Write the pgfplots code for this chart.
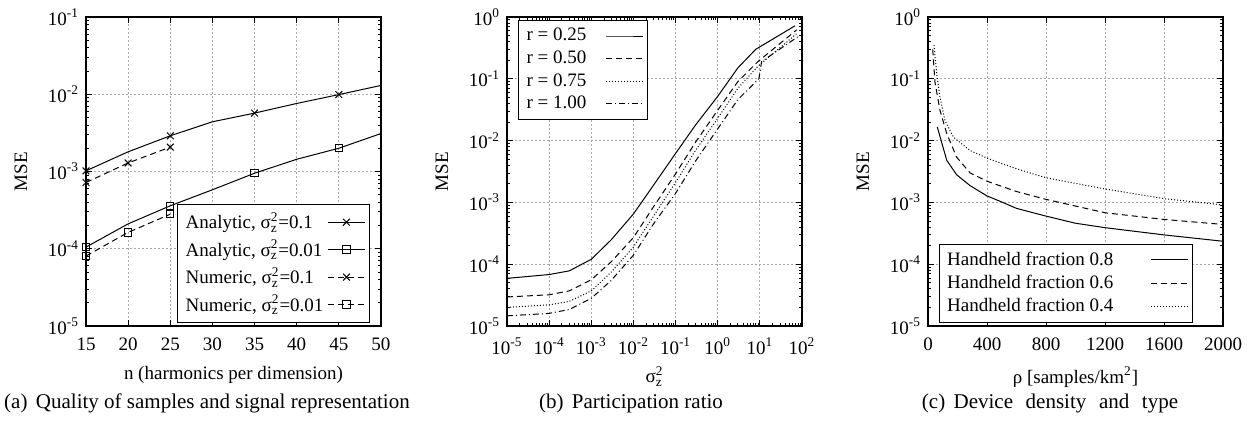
\documentclass[border=0pt]{standalone}
\usepackage{fontspec}
\setmainfont{Liberation Serif}
\usepackage{amsmath}
\usepackage{pgfplots}
\pgfplotsset{compat=1.18}

\newcommand{\gpfont}{\fontsize{9.5}{11}\selectfont}
\newcommand{\capfont}{\fontsize{10.5}{12}\selectfont}
\newcommand{\sz}{\ensuremath{\text{σ}^{\text{2}}_{\text{z}}}}

\pgfplotsset{
  legend image code/.code={%
    \draw[mark repeat=2,mark phase=2,#1]
      plot coordinates {(0pt,0pt) (9.25pt,0pt) (18.5pt,0pt)};},
  gp/.style={
    anchor=south west,
    scale only axis, width=147.5pt, height=154.5pt,
    axis line style={line width=0.6pt},
    tick align=inside, major tick length=3pt, minor tick length=1.5pt,
    tick style={black, line width=0.4pt},
    grid=major,
    major grid style={gray!70, line width=0.4pt, dash pattern=on 1pt off 1pt},
    ylabel=MSE,
    every axis y label/.style={at={(axis description cs:0,0.5)},
      xshift=-32.5pt, rotate=90, anchor=center},
    tick label style={font=\gpfont},
    xticklabel style={yshift=-2.5pt},
    label style={font=\gpfont},
    legend cell align=left, legend plot pos=right,
    legend style={draw=black, line width=0.6pt, font=\gpfont, inner sep=2pt},
    every axis plot/.append style={black, line width=0.5pt},
  },
  dsh/.style={dash pattern=on 3pt off 2pt},
  dtt/.style={dash pattern=on 0.5pt off 1pt},
  dshdt/.style={dash pattern=on 3pt off 1.5pt on 0.5pt off 1.5pt},
}

\begin{document}
\begin{tikzpicture}
\path[use as bounding box] (0,0) rectangle (626pt,213pt);

% (a)
\begin{axis}[gp, at={(43pt,50pt)},
  ymode=log, log basis y=10,
  yticklabel={\pgfmathtruncatemacro{\e}{round(\tick)}10\textsuperscript{\e}},
  /pgf/number format/assume math mode=true,
  xmin=15, xmax=50, xtick={15,20,...,50},
  ymin=1e-5, ymax=1e-1,
  xlabel={n (harmonics per dimension)},
  xlabel style={yshift=-1pt},
  legend style={at={(0.963,0.01)}, anchor=south east}]
\addplot[mark=x, mark size=2.4pt, mark repeat=2] coordinates {
  (15,1.02e-3) (20,1.8e-3) (25,2.9e-3) (30,4.4e-3)
  (35,5.7e-3) (40,7.6e-3) (45,9.9e-3) (50,1.3e-2)};
\addlegendentry{Analytic, \sz=0.1}
\addplot[mark=square, mark size=1.85pt, mark repeat=2] coordinates {
  (15,1.05e-4) (20,2.1e-4) (25,3.6e-4) (30,5.8e-4)
  (35,9.5e-4) (40,1.44e-3) (45,2.0e-3) (50,3.1e-3)};
\addlegendentry{Analytic, \sz=0.01}
\addplot[dsh, mark=x, mark size=2.4pt, mark options={solid}] coordinates {
  (15,7.2e-4) (20,1.29e-3) (25,2.07e-3)};
\addlegendentry{Numeric, \sz=0.1}
\addplot[dsh, mark=square, mark size=1.85pt, mark options={solid}] coordinates {
  (15,8.05e-5) (20,1.63e-4) (25,2.8e-4)};
\addlegendentry{Numeric, \sz=0.01}
\end{axis}

% (b)
\begin{axis}[gp, at={(253.5pt,50pt)},
  xmode=log, ymode=log, log basis x=10, log basis y=10,
  xticklabel={\pgfmathtruncatemacro{\e}{round(\tick)}10\textsuperscript{\e}},
  yticklabel={\pgfmathtruncatemacro{\e}{round(\tick)}10\textsuperscript{\e}},
  xmin=1e-5, xmax=1e2,
  ymin=1e-5, ymax=1,
  xlabel={\sz},
  xlabel style={yshift=1pt},
  legend style={at={(0.037,0.99)}, anchor=north west,
    nodes={inner ysep=1.75pt},
    /tikz/every odd column/.append style={column sep=7.5pt}}]
\addplot[black] coordinates {
  (1e-5,5.9e-5) (1e-4,6.8e-5) (3e-4,7.8e-5) (1e-3,1.2e-4) (3e-3,2.5e-4)
  (1e-2,6.5e-4) (3e-2,1.9e-3) (1e-1,6.2e-3) (3e-1,1.8e-2) (1,5.2e-2)
  (3,0.15) (8,0.30) (68,0.72)};
\addlegendentry{r = 0.25}
\addplot[dsh] coordinates {
  (1e-5,2.95e-5) (1e-4,3.2e-5) (3e-4,3.7e-5) (1e-3,5.6e-5) (3e-3,1.1e-4)
  (1e-2,2.7e-4) (3e-2,8.5e-4) (1e-1,2.9e-3) (3e-1,9.5e-3) (1,3.1e-2)
  (3,9e-2) (9,0.19) (75,0.62)};
\addlegendentry{r = 0.50}
\addplot[dtt] coordinates {
  (1e-5,2.0e-5) (1e-4,2.2e-5) (3e-4,2.5e-5) (1e-3,3.7e-5) (3e-3,7.5e-5)
  (1e-2,1.9e-4) (3e-2,6.0e-4) (1e-1,2.1e-3) (3e-1,7e-3) (1,2.3e-2)
  (3,7e-2) (9,0.16) (78,0.55)};
\addlegendentry{r = 0.75}
\addplot[dshdt] coordinates {
  (1e-5,1.46e-5) (1e-4,1.6e-5) (3e-4,1.85e-5) (1e-3,2.8e-5) (3e-3,5.5e-5)
  (1e-2,1.4e-4) (3e-2,4.5e-4) (1e-1,1.4e-3) (3e-1,4.7e-3) (1,1.55e-2)
  (3,4.6e-2) (9.5,0.10) (11,0.19) (80,0.48)};
\addlegendentry{r = 1.00}
\end{axis}

% (c)
\begin{axis}[gp, at={(464pt,50pt)},
  ymode=log, log basis y=10,
  yticklabel={\pgfmathtruncatemacro{\e}{round(\tick)}10\textsuperscript{\e}},
  /pgf/number format/assume math mode=true,
  /pgf/number format/1000 sep={},
  xmin=0, xmax=2000, xtick={0,400,...,2000},
  ymin=1e-5, ymax=1,
  xlabel={ρ [samples/km\textsuperscript{2}]},
  xlabel style={yshift=-1pt},
  legend style={at={(0.898,0.01)}, anchor=south east,
    nodes={inner ysep=1.75pt},
    /tikz/every odd column/.append style={column sep=16.5pt}}]
\addplot[black] coordinates {
  (63,1.66e-2) (127,4.8e-3) (194,2.8e-3) (285,1.87e-3) (400,1.27e-3)
  (490,1.04e-3) (600,8.0e-4) (800,6.0e-4) (1000,4.6e-4) (1200,3.9e-4)
  (1600,2.98e-4) (2000,2.35e-4)};
\addlegendentry{Handheld fraction 0.8}
\addplot[dsh] coordinates {
  (32,0.30) (47,8.9e-2) (81,3.1e-2) (127,1.3e-2) (194,5.4e-3) (285,3.0e-3)
  (400,2.2e-3) (600,1.5e-3) (800,1.12e-3) (1200,6.8e-4) (1600,5.3e-4)
  (2000,4.4e-4)};
\addlegendentry{Handheld fraction 0.6}
\addplot[dtt] coordinates {
  (41,0.35) (59,0.12) (81,5.1e-2) (115,2.1e-2) (172,1.14e-2) (285,6.9e-3)
  (400,5.2e-3) (600,3.5e-3) (800,2.5e-3) (1200,1.65e-3) (1600,1.15e-3)
  (2000,9.1e-4)};
\addlegendentry{Handheld fraction 0.4}
\end{axis}

\node[font=\capfont] at (103.5pt,11.5pt) {(a)\hspace{0.4em}Quality of samples and signal representation};
\node[font=\capfont] at (315.5pt,11.5pt) {(b)\hspace{0.4em}Participation ratio};
\node[font=\capfont] at (525pt,11.5pt) {\spaceskip=0.6em (c)\hspace{0.4em}Device density and type};
\end{tikzpicture}
\end{document}
